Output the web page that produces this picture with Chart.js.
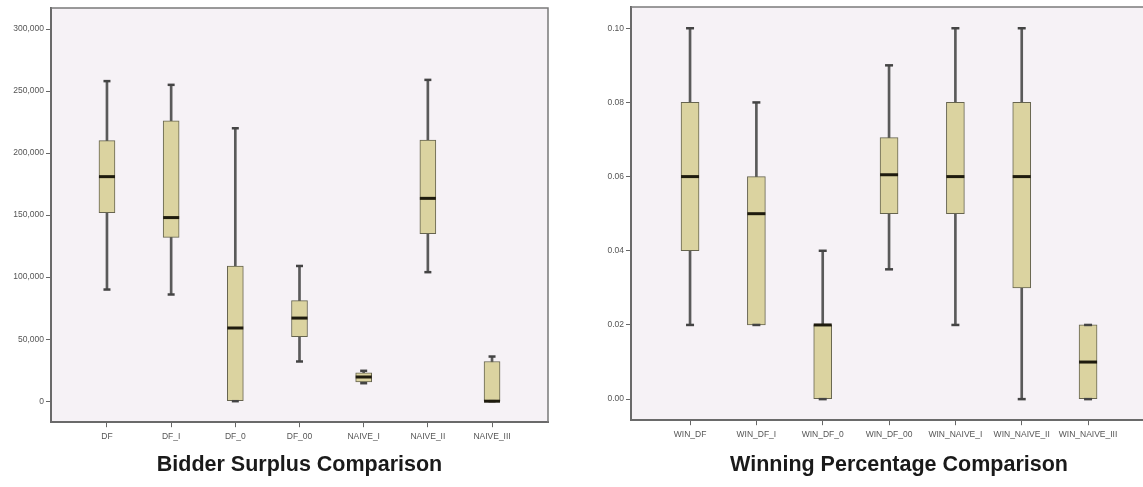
<!DOCTYPE html>
<html>
<head>
<meta charset="utf-8">
<script src="https://cdn.jsdelivr.net/npm/chart.js@4/dist/chart.umd.min.js"></script>
<style>
  html, body { margin: 0; padding: 0; background: #fff; overflow: hidden; }
  body { width: 1143px; height: 487px; position: relative; }
  canvas { position: absolute; top: 0; }
  #surplusChart { left: 0; }
  #winChart { left: 575px; }
</style>
</head>
<body>
<canvas id="surplusChart" width="560" height="487"></canvas>
<canvas id="winChart" width="600" height="487"></canvas>
<script>
'use strict';

// Bidder surplus (left)
const surplusCats = ['DF', 'DF_I', 'DF_0', 'DF_00', 'NAIVE_I', 'NAIVE_II', 'NAIVE_III'];
const surplusMin = [90000, 86000, 0, 32000, 14500, 104000, 0];
const surplusQ1 = [152000, 132000, 0, 52000, 15500, 135000, 0];
const surplusMedian = [181000, 148000, 59000, 67000, 19500, 163500, 0];
const surplusQ3 = [210000, 226000, 109000, 81000, 22800, 210500, 32000];
const surplusMax = [258000, 255000, 220000, 109000, 24500, 259000, 36000];
const surplusTicks = [0, 50000, 100000, 150000, 200000, 250000, 300000];

// Winning percentage (right)
const winCats = ['WIN_DF', 'WIN_DF_I', 'WIN_DF_0', 'WIN_DF_00', 'WIN_NAIVE_I', 'WIN_NAIVE_II', 'WIN_NAIVE_III'];
const winMin = [0.02, 0.02, 0.00, 0.035, 0.02, 0.00, 0.00];
const winQ1 = [0.04, 0.02, 0.00, 0.05, 0.05, 0.03, 0.00];
const winMedian = [0.06, 0.05, 0.02, 0.0605, 0.06, 0.06, 0.01];
const winQ3 = [0.08, 0.06, 0.02, 0.0705, 0.08, 0.08, 0.02];
const winMax = [0.10, 0.08, 0.04, 0.09, 0.10, 0.10, 0.02];
const winTicks = [0, 0.02, 0.04, 0.06, 0.08, 0.10];

const boxFill = '#dbd3a0';
const boxLine = '#66644f';
const whiskerColor = '#5a5a5a';
const plotBg = '#f6f2f6';
const tickFont = { family: 'Liberation Sans', size: 8.5 };

// 背景と枠線
function framePlugin(drawRight) {
  return {
    id: 'frame',
    beforeDraw(chart) {
      const a = chart.chartArea;
      const ctx = chart.ctx;
      ctx.save();
      ctx.fillStyle = plotBg;
      ctx.fillRect(a.left, a.top, a.right - a.left, a.bottom - a.top);
      ctx.restore();
    },
    afterDraw(chart) {
      const a = chart.chartArea;
      const ctx = chart.ctx;
      ctx.save();
      ctx.strokeStyle = '#7a7a7a';
      ctx.lineWidth = 1.5;
      ctx.beginPath();
      ctx.moveTo(a.left, a.top);
      ctx.lineTo(a.right, a.top);
      if (drawRight) ctx.lineTo(a.right, a.bottom);
      ctx.stroke();
      ctx.restore();
    },
  };
}

// 中央値とひげの端
function boxExtras(medians, mins, maxs, capWidth) {
  return {
    id: 'boxExtras',
    afterDatasetsDraw(chart) {
      const yScale = chart.scales.y;
      const boxes = chart.getDatasetMeta(0).data;
      const ctx = chart.ctx;
      ctx.save();
      boxes.forEach((bar, i) => {
        const x = bar.x;
        // caps
        ctx.strokeStyle = '#444';
        ctx.lineWidth = 2.5;
        [mins[i], maxs[i]].forEach((v) => {
          const y = yScale.getPixelForValue(v);
          ctx.beginPath();
          ctx.moveTo(x - capWidth / 2, y);
          ctx.lineTo(x + capWidth / 2, y);
          ctx.stroke();
        });
        // median
        const my = yScale.getPixelForValue(medians[i]);
        ctx.strokeStyle = '#1e1b0e';
        ctx.lineWidth = 3;
        ctx.beginPath();
        ctx.moveTo(x - bar.width / 2, my);
        ctx.lineTo(x + bar.width / 2, my);
        ctx.stroke();
      });
      ctx.restore();
    },
  };
}

function makeBoxChart(canvasId, s) {
  const boxData = s.cats.map((c, i) => ({ x: i, y: [s.q1[i], s.q3[i]] }));
  const whiskerData = s.cats.map((c, i) => ({ x: i, y: [s.min[i], s.max[i]] }));

  return new Chart(document.getElementById(canvasId), {
    type: 'bar',
    data: {
      datasets: [
        {
          data: boxData,
          backgroundColor: boxFill,
          borderColor: boxLine,
          borderWidth: 1,
          borderSkipped: false,
          barThickness: s.boxWidth,
          grouped: false,
        },
        {
          data: whiskerData,
          backgroundColor: whiskerColor,
          borderWidth: 0,
          barThickness: 2,
          grouped: false,
        },
      ],
    },
    options: {
      responsive: false,
      animation: false,
      layout: { padding: { top: s.padTop, right: s.padRight, left: 0, bottom: 0 } },
      plugins: {
        legend: { display: false },
        tooltip: { enabled: false },
        title: {
          display: true,
          text: s.title,
          position: 'bottom',
          fullSize: false,
          color: '#1a1a1a',
          font: { family: 'Liberation Sans', size: 21.5, weight: 'bold' },
          padding: { top: s.titleGap, bottom: 9 },
        },
      },
      scales: {
        x: {
          type: 'linear',
          offset: false,
          min: s.xMin,
          max: s.xMax,
          afterBuildTicks: (scale) => {
            scale.ticks = s.cats.map((c, i) => ({ value: i }));
          },
          afterFit: (scale) => {
            scale.height = 30;
          },
          ticks: {
            autoSkip: false,
            maxRotation: 0,
            color: '#555',
            font: tickFont,
            padding: 4,
            callback: (v) => s.cats[v],
          },
          grid: { offset: false, drawOnChartArea: false, tickLength: 5, color: '#666' },
          border: { color: '#6a6a6a', width: 2 },
        },
        y: {
          min: s.yMin,
          max: s.yMax,
          afterBuildTicks: (scale) => {
            scale.ticks = s.yTicks.map((v) => ({ value: v }));
          },
          afterFit: (scale) => {
            scale.width = s.yWidth;
          },
          ticks: {
            color: '#555',
            font: tickFont,
            padding: 2,
            callback: s.yFormat,
          },
          grid: { drawOnChartArea: false, tickLength: 5, color: '#666' },
          border: { color: '#6a6a6a', width: 2 },
        },
      },
    },
    plugins: [framePlugin(s.drawRight), boxExtras(s.median, s.min, s.max, s.capWidth)],
  });
}

makeBoxChart('surplusChart', {
  cats: surplusCats,
  min: surplusMin,
  q1: surplusQ1,
  median: surplusMedian,
  q3: surplusQ3,
  max: surplusMax,
  yTicks: surplusTicks,
  yMin: -16935,
  yMax: 316935,
  xMin: -0.872,
  xMax: 6.872,
  yFormat: (v) => v.toLocaleString('en-US'),
  title: 'Bidder Surplus Comparison',
  boxWidth: 16,
  capWidth: 7,
  yWidth: 51,
  padTop: 8,
  padRight: 12,
  titleGap: 0,
  drawRight: true,
});

makeBoxChart('winChart', {
  cats: winCats,
  min: winMin,
  q1: winQ1,
  median: winMedian,
  q3: winQ3,
  max: winMax,
  yTicks: winTicks,
  yMin: -0.00568,
  yMax: 0.1057,
  xMin: -0.89,
  xMax: 7.19,
  yFormat: (v) => v.toFixed(2),
  title: 'Winning Percentage Comparison',
  boxWidth: 18,
  capWidth: 8,
  yWidth: 56,
  padTop: 7,
  padRight: 8,
  titleGap: 2,
  drawRight: false,
});
</script>
</body>
</html>
